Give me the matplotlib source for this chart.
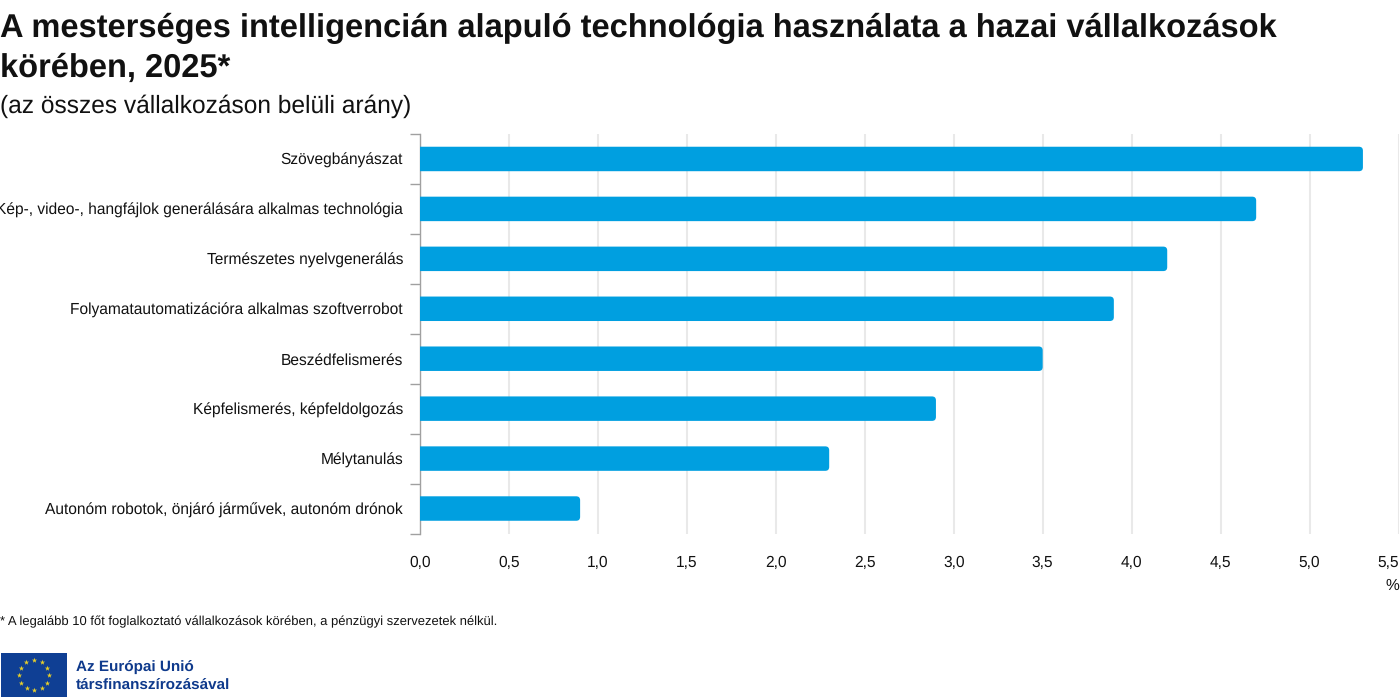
import matplotlib
matplotlib.use("Agg")
import matplotlib.pyplot as plt
import numpy as np
from matplotlib.patches import FancyBboxPatch, Rectangle

categories = [
    "Szövegbányászat",
    "Kép-, video-, hangfájlok generálására alkalmas technológia",
    "Természetes nyelvgenerálás",
    "Folyamatautomatizációra alkalmas szoftverrobot",
    "Beszédfelismerés",
    "Képfelismerés, képfeldolgozás",
    "Mélytanulás",
    "Autonóm robotok, önjáró járművek, autonóm drónok",
]
values = [5.3, 4.7, 4.2, 3.9, 3.5, 2.9, 2.3, 0.9]
x_ticks = [0.0, 0.5, 1.0, 1.5, 2.0, 2.5, 3.0, 3.5, 4.0, 4.5, 5.0, 5.5]

W, H = 1400, 699
BLUE = "#009fe0"
GRID = "#e9e9e9"
AXIS = "#a0a0a0"
NAVY = "#0f3a8c"
TEXT = "#111111"

plt.rcParams["font.family"] = ["Liberation Sans", "DejaVu Sans"]
plt.rcParams["text.hinting"] = "no_hinting"

fig = plt.figure(figsize=(W / 100, H / 100), dpi=100, facecolor="white")


def fx(px):
    return px / W


def fy(px):
    return 1 - px / H


# plot area in pixels: left 420, right 1398.5, top 134, bottom 533.5
ax = fig.add_axes([fx(420), fy(533.5), (1398.5 - 420) / W, (533.5 - 134) / H])
ax.set_xlim(0, 5.5)
ax.set_ylim(len(categories) - 0.5, -0.5)

y_pos = np.arange(len(categories))
bar_h = 0.49
# px per data unit, used to keep the corner radius round on both axes
aspect = (399.5 / 8) / (978.5 / 5.5)
# boxes start left of zero so the axes clip leaves that end square
overhang = 0.05
for y, v in zip(y_pos, values):
    ax.add_patch(FancyBboxPatch(
        (-overhang, y - bar_h / 2), v + overhang, bar_h,
        boxstyle="round,pad=0,rounding_size=0.022",
        mutation_aspect=1 / aspect,
        facecolor=BLUE, edgecolor="none", zorder=3,
    ))

ax.set_xticks(x_ticks)
ax.set_xticklabels([f"{t:.1f}".replace(".", ",") for t in x_ticks],
                   fontsize=11.2, color=TEXT)
# last label sits inside the figure edge
ax.get_xticklabels()[-1].set_horizontalalignment("right")
ax.tick_params(axis="x", length=0, pad=15.5)
ax.grid(axis="x", color=GRID, linewidth=1.5, zorder=0)
ax.set_axisbelow(True)

ax.set_yticks(np.arange(len(categories) + 1) - 0.5, minor=True)
ax.set_yticks(y_pos)
ax.set_yticklabels(categories, fontsize=11.19, color=TEXT)
ax.tick_params(axis="y", which="major", length=0, pad=12.2)
ax.tick_params(axis="y", which="minor", length=7.5, width=1, color=AXIS)

for side in ("top", "right", "bottom"):
    ax.spines[side].set_visible(False)
ax.spines["left"].set_color(AXIS)
ax.spines["left"].set_linewidth(1)

fig.text(fx(1392), fy(586), "%", fontsize=11.2, color=TEXT, ha="center", va="center")

# title block
fig.text(0, fy(28), "A mesterséges intelligencián alapuló technológia használata a hazai vállalkozások",
         fontsize=23.5, fontweight="bold", color=TEXT, ha="left", va="center")
fig.text(0, fy(68), "körében, 2025*",
         fontsize=23.5, fontweight="bold", color=TEXT, ha="left", va="center")
fig.text(0, fy(106), "(az összes vállalkozáson belüli arány)",
         fontsize=17.67, color=TEXT, ha="left", va="center")

fig.text(0, fy(622), "* A legalább 10 főt foglalkoztató vállalkozások körében, a pénzügyi szervezetek nélkül.",
         fontsize=9.39, color=TEXT, ha="left", va="center")

# EU flag
flag = fig.add_axes([fx(1), fy(697), 66 / W, 44 / H])
flag.set_xlim(0, 66)
flag.set_ylim(44, 0)
flag.axis("off")
flag.add_patch(Rectangle((0, 0), 66, 44, facecolor="#0f3f94", edgecolor="none"))
angles = np.deg2rad(np.arange(0, 360, 30))
flag.scatter(33 + 15 * np.cos(angles), 22 + 15 * np.sin(angles),
             marker="*", s=16, color="#e8d02a", linewidths=0)

fig.text(fx(76), fy(667), "Az Európai Unió", fontsize=11, fontweight="bold",
         color=NAVY, ha="left", va="center")
fig.text(fx(76), fy(685), "társfinanszírozásával", fontsize=11, fontweight="bold",
         color=NAVY, ha="left", va="center")

fig.savefig("out.png", dpi=100, facecolor="white")
